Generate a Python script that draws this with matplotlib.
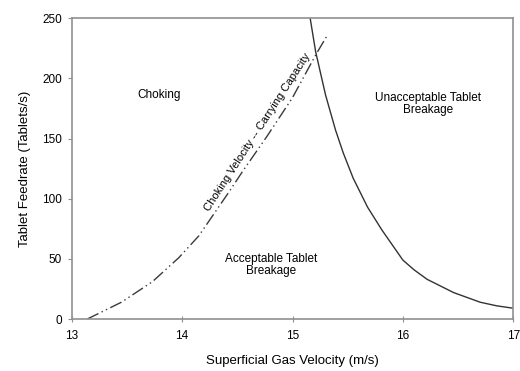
import matplotlib.pyplot as plt

plt.rcParams['font.family'] = ['Liberation Sans', 'DejaVu Sans']

# choking velocity / carrying capacity curve (dash-dot-dot)
choke_v = [13.14, 13.45, 13.73, 13.97, 14.15, 14.27, 14.42, 14.55, 14.77, 15.00, 15.16, 15.22, 15.31]
choke_f = [0, 14, 31, 51, 69, 85, 105, 123, 152, 184, 211, 221, 235]

# tablet breakage limit (solid)
break_v = [15.16, 15.21, 15.30, 15.39, 15.46, 15.55, 15.68, 15.81, 16.00, 16.10, 16.22, 16.46, 16.70, 16.85, 17.00]
break_f = [250, 222, 186, 157, 138, 117, 93, 74, 49, 41, 33, 22, 14, 11, 9]

fig, ax = plt.subplots(figsize=(5.2, 3.71), dpi=100)
fig.subplots_adjust(left=0.138, right=0.987, top=0.951, bottom=0.14)

ax.plot(choke_v, choke_f, color='#3a3a3a', lw=1.0, dashes=(9, 2.5, 1, 2.5, 1, 2.5))
ax.plot(break_v, break_f, color='#333333', lw=1.0)

ax.set_xlim(13, 17)
ax.set_ylim(0, 250)
ax.set_xticks([13, 14, 15, 16, 17])
ax.set_yticks([0, 50, 100, 150, 200, 250])

for s in ax.spines.values():
    s.set_color('#909090')
    s.set_linewidth(1.2)
ax.tick_params(axis='y', direction='out', length=3, color='#909090', labelsize=8.5, pad=4)
ax.tick_params(axis='x', direction='inout', length=4, color='#909090', labelsize=8.5, pad=6)

ax.set_xlabel('Superficial Gas Velocity (m/s)', fontsize=9.5, labelpad=9)
ax.set_ylabel('Tablet Feedrate (Tablets/s)', fontsize=9.5, labelpad=8)

ax.text(13.79, 186, 'Choking', fontsize=8.5, ha='center', va='center')
ax.text(16.23, 179, 'Unacceptable Tablet\nBreakage', fontsize=8.5, ha='center', va='center', linespacing=1.0)
ax.text(14.81, 45, 'Acceptable Tablet\nBreakage', fontsize=8.5, ha='center', va='center', linespacing=1.0)
ax.text(14.685, 155.5, 'Choking Velocity -- Carrying Capacity', fontsize=8, ha='center', va='center',
        rotation=57, rotation_mode='anchor')

fig.savefig('out.png')
